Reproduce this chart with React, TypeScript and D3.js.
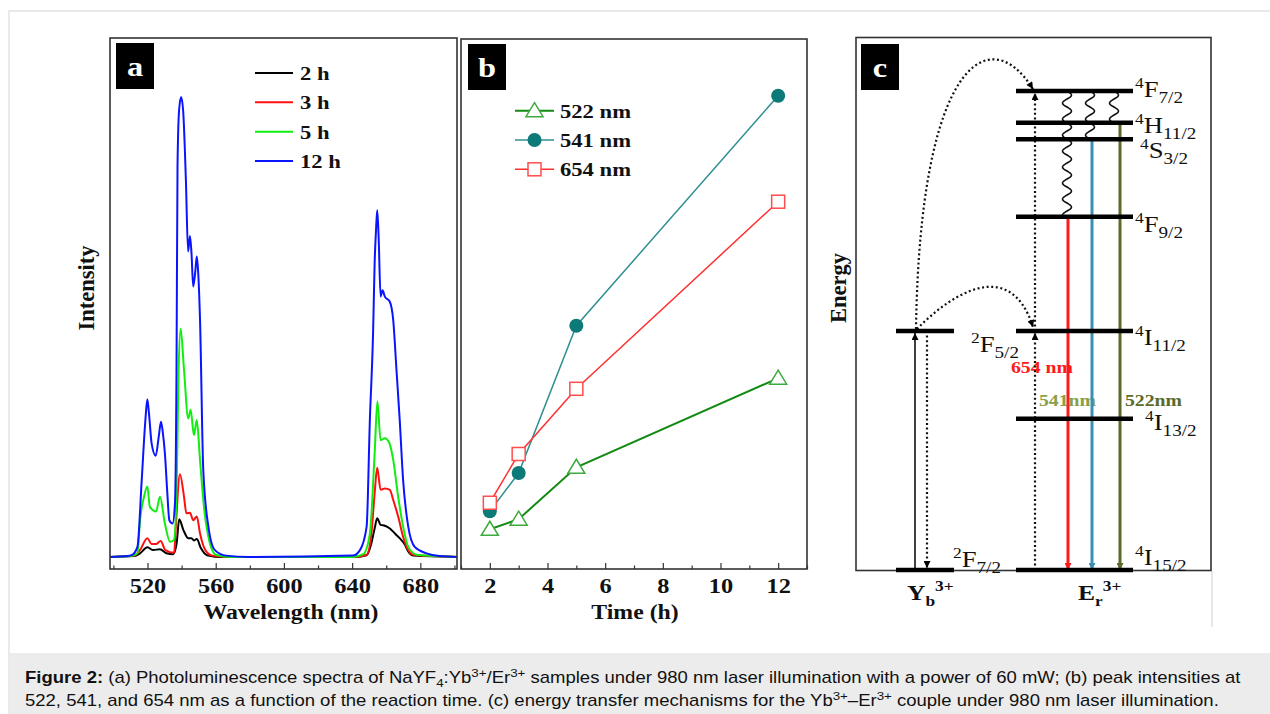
import { useEffect, useRef } from 'react'
import * as d3 from 'd3'

// (a) PL spectra, pairs of [wavelength nm, intensity a.u.]
const spec2h = [[498,0],[512.2,0.2],[515.6,0.8],[519.9,2.1],[523.4,1.5],[527.3,1.7],[531.1,0.8],[535.1,0.6],[537.1,3],[538.6,8.2],[541,5.9],[543.9,4.1],[545.8,4.1],[547.2,3.6],[548.9,3.9],[551.2,2],[554.9,0.4],[564.1,0],[640.4,0],[648.5,0.4],[651.3,3],[653.2,6.2],[654.7,8.4],[656.7,7],[659.2,6.8],[662.1,6.2],[665.1,5.1],[667.9,4.1],[670.9,2.7],[672.9,1.2],[675.9,0.3],[701.5,0]]
const spec3h = [[498,0],[512.2,0.3],[515.6,1.5],[519.9,4.1],[522.4,2.8],[525,2.8],[527.7,3.5],[530.5,1.5],[535.6,0.9],[536.6,6.6],[539,18],[541.4,13.1],[542.8,9.5],[544.9,9.6],[546.8,8],[548.9,8.8],[550.8,5.1],[553.9,1.5],[558,0.3],[569.2,0],[640.4,0],[648.5,0.5],[651.3,5.1],[653.2,13.8],[654.7,19.4],[656.7,14.6],[659.2,14.9],[662.1,14.6],[664.1,12.4],[667,8.8],[669.9,4.4],[672.9,1.5],[675.9,0.5],[701.5,0]]
const spec5h = [[498,0],[510.2,0.2],[514.1,0.8],[515.6,8],[517.9,13],[519.9,15.3],[521.4,10.9],[525,9.9],[527.3,13.1],[530.2,7.3],[533.2,3.3],[535.5,3.7],[537.1,15.3],[538.2,40],[539.4,49.7],[541.4,40.7],[543.9,30.1],[545.3,32],[547.2,26.5],[548.9,29.8],[550.8,21],[553.1,10.9],[555.7,4.4],[560,0.5],[569.2,0],[640.4,0],[646.5,0.6],[650.4,5.1],[653.2,22.5],[654.8,33.8],[656.7,25.4],[659.2,25.8],[661.7,24.9],[664.1,21.1],[667,13.1],[669.9,6.6],[672.9,2.2],[678,0.5],[701.5,0]]
const spec12h = [[498,0],[508.2,0.2],[510.7,0.4],[514.1,2.2],[516.6,16.7],[518.8,30],[519.9,34.3],[520.9,31],[522.4,24.7],[524.8,22],[526.7,26.5],[527.9,29.4],[529,27],[530.2,22.5],[531.6,14],[532.8,8],[534.7,7.3],[536.1,11.7],[537,40],[537.6,85],[538.5,97],[539.7,100],[540.9,97],[542.5,82],[543.8,66.4],[544.9,69.8],[545.8,66],[546.8,58.8],[548,62],[548.9,65.3],[549.7,62],[550.8,51.5],[552.7,18.9],[555.7,6.6],[559.5,1.5],[566.1,0.3],[579.4,0],[640.4,0.3],[644.6,1.5],[648.5,6.6],[650.4,29.8],[652.3,49],[653.2,63.9],[654,71],[654.7,75.4],[655.5,70],[656.7,56.6],[657.8,58],[659.2,56.6],[662.1,55.5],[664.1,51.5],[666,40.7],[667.9,29.8],[669.9,16.7],[672.9,6.6],[676.7,2.2],[683.6,0.8],[691.2,0.2],[701.5,0]]
const specNames = ['2 h', '3 h', '5 h', '12 h']
const wlTicks = [520, 560, 600, 640, 680]
const wlMinor = [500, 540, 580, 620, 660, 700]

// (b) peak intensity vs reaction time
const times = [2, 3, 5, 12]
const peak522 = [7.5, 9.4, 19.2, 36]
const peak541 = [10.9, 18.1, 45.9, 89.3]
const peak654 = [12.5, 21.7, 34, 69.3]
const timeTicks = [2, 4, 6, 8, 10, 12]
const timeMinor = [1, 3, 5, 7, 9, 11, 13]

// (c) energy levels, cm-1
const erLevels = [
  { sup: '4', main: 'F', sub: '7/2', e: 20440 },
  { sup: '4', main: 'H', sub: '11/2', e: 19090 },
  { sup: '4', main: 'S', sub: '3/2', e: 18380 },
  { sup: '4', main: 'F', sub: '9/2', e: 15080 },
  { sup: '4', main: 'I', sub: '11/2', e: 10200 },
  { sup: '4', main: 'I', sub: '13/2', e: 6450 },
  { sup: '4', main: 'I', sub: '15/2', e: 0 },
]
const ybLevels = [
  { sup: '2', main: 'F', sub: '5/2', e: 10200 },
  { sup: '2', main: 'F', sub: '7/2', e: 0 },
]

const serif = '"Liberation Serif", "Times New Roman", serif'
const sans = '"Liberation Sans", Arial, sans-serif'
const SX = 1.16 // the figure text is a bit wide

const App = () => {
  const ref = useRef(null)

  useEffect(() => {
    const svg = d3.select(ref.current)
    svg.selectAll('*').remove()
    const defs = svg.append('defs')

    // text with the horizontal stretch
    const txt = (x, y, size, opts = {}) => {
      const t = svg.append('text')
        .attr('transform', `translate(${x},${y})${opts.rotate ? ' rotate(-90)' : ''} scale(${opts.rotate ? 1 : SX},1)`)
        .attr('font-family', opts.font || serif).attr('font-size', size)
        .attr('fill', opts.fill || '#111')
      if (opts.bold) t.attr('font-weight', 'bold')
      if (opts.anchor) t.attr('text-anchor', opts.anchor)
      return t
    }

    const marker = (id, color, len = 10, wid = 8) => {
      defs.append('marker').attr('id', id)
        .attr('viewBox', '0 0 10 10').attr('refX', 10).attr('refY', 5)
        .attr('markerWidth', len).attr('markerHeight', wid)
        .attr('markerUnits', 'userSpaceOnUse').attr('orient', 'auto')
        .append('path').attr('d', 'M0,0 L10,5 L0,10 z').attr('fill', color)
    }
    marker('ah-black', '#000', 9, 7)
    marker('ah-red', '#ff1a1a', 9, 7)
    marker('ah-blue', '#3a8fb3', 9, 7)
    marker('ah-olive', '#5a6b2a', 9, 7)

    // page frame and caption box
    svg.append('rect').attr('x', 9).attr('y', 11).attr('width', 1270).attr('height', 720)
      .attr('fill', '#fff').attr('stroke', '#e3e3e3').attr('stroke-width', 1.5)
    svg.append('rect').attr('x', 9.75).attr('y', 653).attr('width', 1262).attr('height', 62)
      .attr('fill', '#ececec')
    svg.append('line').attr('x1', 1212).attr('x2', 1212).attr('y1', 571).attr('y2', 627)
      .attr('stroke', '#d0d0d0').attr('stroke-width', 1)

    const panelTag = (x, y, letter) => {
      svg.append('rect').attr('x', x).attr('y', y).attr('width', 38).attr('height', 46).attr('fill', '#000')
      txt(x + 19, y + 33, 28, { bold: true, anchor: 'middle', fill: '#fff' }).text(letter)
    }

    const bottomAxis = (x, y0, major, minor) => {
      const g = svg.append('g').attr('transform', `translate(0,${y0})`)
      g.call(d3.axisBottom(x).tickValues(major).tickSize(-6).tickPadding(9).tickFormat(d => d))
        .call(a => a.select('.domain').remove())
      g.selectAll('text').attr('font-family', serif).attr('font-weight', 'bold').attr('font-size', 21)
        .attr('fill', '#111').attr('transform', `scale(${SX},1)`)
      g.selectAll('line').attr('stroke', '#333').attr('stroke-width', 1.2)
      const m = svg.append('g').attr('transform', `translate(0,${y0})`)
      m.call(d3.axisBottom(x).tickValues(minor).tickSize(-3.5).tickFormat(() => ''))
        .call(a => a.select('.domain').remove())
      m.selectAll('line').attr('stroke', '#333').attr('stroke-width', 1.2)
    }

    // ---------------- panel a ----------------
    const ax = d3.scaleLinear().domain([498, 701.5]).range([110, 457])
    const ay = d3.scaleLinear().domain([0, 100]).range([557, 97])
    const specColors = ['#000000', '#ff1010', '#10ee10', '#0a14ff']
    const specs = [spec2h, spec3h, spec5h, spec12h]
    const aLine = d3.line().x(d => ax(d[0])).y(d => ay(d[1])).curve(d3.curveMonotoneX)
    specs.forEach((s, i) => {
      svg.append('path').datum(s).attr('d', aLine).attr('fill', 'none')
        .attr('stroke', specColors[i]).attr('stroke-width', 2)
    })
    svg.append('rect').attr('x', 110).attr('y', 38).attr('width', 347).attr('height', 531)
      .attr('fill', 'none').attr('stroke', '#333').attr('stroke-width', 1.6)
    bottomAxis(ax, 569, wlTicks, wlMinor)
    txt(291, 619, 20.5, { bold: true, anchor: 'middle' }).text('Wavelength (nm)')
    txt(94, 288, 22.5, { bold: true, anchor: 'middle', rotate: true }).text('Intensity')
    panelTag(116, 43, 'a')
    const aLeg = d3.scalePoint().domain(specNames).range([73, 161])
    specNames.forEach((n, i) => {
      svg.append('line').attr('x1', 255).attr('x2', 293).attr('y1', aLeg(n)).attr('y2', aLeg(n))
        .attr('stroke', specColors[i]).attr('stroke-width', 2)
      txt(300, aLeg(n) + 7, 19.5, { bold: true }).text(n)
    })

    // ---------------- panel b ----------------
    const bx = d3.scaleLinear().domain([1, 13]).range([461, 807])
    const by = d3.scaleLinear().domain([0, 100]).range([569, 39])
    const series = [
      { name: '541 nm', vals: peak541, line: '#2f9090', stroke: '#0c7a78', fill: '#0c7a78', shape: 'circle', w: 1.5 },
      { name: '654 nm', vals: peak654, line: '#ff3030', stroke: '#ff4d4d', fill: '#fff', shape: 'square', w: 1.5 },
      { name: '522 nm', vals: peak522, line: '#138a13', stroke: '#3daa3d', fill: '#fff', shape: 'triangle', w: 2 },
    ]
    const drawMark = (g, shape, cx, cy, s) => {
      if (shape === 'circle') {
        g.append('circle').attr('cx', cx).attr('cy', cy).attr('r', 7).attr('fill', s.fill)
      } else if (shape === 'square') {
        g.append('rect').attr('x', cx - 6.5).attr('y', cy - 6.5).attr('width', 13).attr('height', 13)
          .attr('fill', s.fill).attr('stroke', s.stroke).attr('stroke-width', 1.5)
      } else {
        g.append('path').attr('d', `M${cx},${cy - 8} L${cx + 8.5},${cy + 6} L${cx - 8.5},${cy + 6} Z`)
          .attr('fill', s.fill).attr('stroke', s.stroke).attr('stroke-width', 1.5)
      }
    }
    const bLine = d3.line().x((d, i) => bx(times[i])).y(d => by(d))
    series.forEach(s => {
      svg.append('path').datum(s.vals).attr('d', bLine).attr('fill', 'none')
        .attr('stroke', s.line).attr('stroke-width', s.w)
    })
    series.forEach(s => {
      const g = svg.append('g')
      s.vals.forEach((v, i) => drawMark(g, s.shape, bx(times[i]), by(v), s))
    })
    svg.append('rect').attr('x', 461).attr('y', 39).attr('width', 346).attr('height', 530)
      .attr('fill', 'none').attr('stroke', '#333').attr('stroke-width', 1.6)
    bottomAxis(bx, 569, timeTicks, timeMinor)
    txt(635, 619, 20.5, { bold: true, anchor: 'middle' }).text('Time (h)')
    panelTag(468, 44, 'b')
    const legOrder = [series[2], series[0], series[1]]
    const bLeg = d3.scalePoint().domain(legOrder.map(s => s.name)).range([110.7, 169.3])
    legOrder.forEach(s => {
      const yy = bLeg(s.name)
      svg.append('line').attr('x1', 515).attr('x2', 554).attr('y1', yy).attr('y2', yy)
        .attr('stroke', s.line).attr('stroke-width', s.w)
      drawMark(svg.append('g'), s.shape, 534.5, yy, s)
      txt(560, yy + 7, 19.5, { bold: true }).text(s.name)
    })

    // ---------------- panel c ----------------
    const ey = d3.scaleLinear().domain([0, 10200]).range([570, 331])
    const erX = [1016, 1133]
    const ybX = [896, 954]
    svg.append('rect').attr('x', 856).attr('y', 37.5).attr('width', 355).attr('height', 533)
      .attr('fill', 'none').attr('stroke', '#333').attr('stroke-width', 1.6)
    panelTag(861, 44, 'c')
    txt(846, 288, 22.5, { bold: true, anchor: 'middle', rotate: true }).text('Energy')

    const termLabel = (x, y, t) => {
      const el = txt(x, y, 23)
      el.append('tspan').attr('font-size', 15).attr('dy', -9).text(t.sup)
      el.append('tspan').attr('dy', 9).text(t.main)
      el.append('tspan').attr('font-size', 16.5).attr('dy', 6).text(t.sub)
    }
    const erLabelPos = [[1135, 6], [1135, 10], [1140, 19], [1135, 15], [1135, 14], [1145, 11], [1135, -5]]
    const ybLabelPos = [[971, 21], [953, -3]]

    // non-radiative wavy relaxations from 4F7/2
    const wavy = (x, e1, e2, amp = 4.5, period = 16) => {
      const y1 = ey(e1), y2 = ey(e2)
      const pts = d3.range(y1, y2, 1).concat([y2]).map(yy => [x + amp * Math.sin((yy - y1) / period * 2 * Math.PI), yy])
      svg.append('path').attr('d', d3.line()(pts)).attr('fill', 'none').attr('stroke', '#111').attr('stroke-width', 1.6)
    }
    wavy(1067, erLevels[0].e, erLevels[3].e)
    wavy(1090, erLevels[0].e, erLevels[2].e)
    wavy(1114, erLevels[0].e, erLevels[1].e)

    // emissions
    const emis = [
      { x: 1068, from: erLevels[3].e, color: '#ff1a1a', m: 'ah-red' },
      { x: 1092, from: erLevels[2].e, color: '#3a8fb3', m: 'ah-blue' },
      { x: 1120, from: erLevels[1].e, color: '#5a6b2a', m: 'ah-olive' },
    ]

    // text labels of transitions (behind lines)
    txt(1011, 373, 17, { bold: true, fill: '#ff1a1a' }).text('654 nm')
    txt(1039, 406, 17, { bold: true, fill: '#8aa048' }).text('541nm')
    txt(1125, 406, 17, { bold: true, fill: '#5a6b2a' }).text('522nm')

    emis.forEach(t => {
      svg.append('line').attr('x1', t.x).attr('x2', t.x).attr('y1', ey(t.from)).attr('y2', ey(0))
        .attr('stroke', t.color).attr('stroke-width', 3).attr('marker-end', `url(#${t.m})`)
    })

    // energy transfer / absorption
    const dotted = { stroke: '#111', 'stroke-width': 2.2, 'stroke-dasharray': '2,2.6', fill: 'none' }
    const applyAttrs = (sel, o) => { Object.entries(o).forEach(([k, v]) => sel.attr(k, v)); return sel }
    applyAttrs(svg.append('line').attr('x1', 1035).attr('x2', 1035).attr('y1', ey(0)).attr('y2', ey(10200) + 2), dotted)
      .attr('marker-end', 'url(#ah-black)')
    applyAttrs(svg.append('line').attr('x1', 1035).attr('x2', 1035).attr('y1', ey(10200)).attr('y2', ey(20440) + 2), dotted)
      .attr('marker-end', 'url(#ah-black)')
    svg.append('line').attr('x1', 915).attr('x2', 915).attr('y1', ey(0)).attr('y2', ey(10200) + 2)
      .attr('stroke', '#111').attr('stroke-width', 1.6).attr('marker-end', 'url(#ah-black)')
    applyAttrs(svg.append('line').attr('x1', 927).attr('x2', 927).attr('y1', ey(10200)).attr('y2', ey(0) - 2), dotted)
      .attr('marker-end', 'url(#ah-black)')
    const p1 = d3.path()
    p1.moveTo(916, ey(10200) - 2)
    p1.bezierCurveTo(920, 60, 990, 20, 1033, ey(20440) - 2)
    applyAttrs(svg.append('path').attr('d', p1.toString()), dotted).attr('marker-end', 'url(#ah-black)')
    const p2 = d3.path()
    p2.moveTo(917, ey(10200) - 2)
    p2.bezierCurveTo(950, 295, 1010, 255, 1033, ey(10200) - 4)
    applyAttrs(svg.append('path').attr('d', p2.toString()), dotted).attr('marker-end', 'url(#ah-black)')

    // levels
    erLevels.forEach((l, i) => {
      svg.append('line').attr('x1', erX[0]).attr('x2', erX[1]).attr('y1', ey(l.e)).attr('y2', ey(l.e))
        .attr('stroke', '#000').attr('stroke-width', 4.5)
      termLabel(erLabelPos[i][0], ey(l.e) + erLabelPos[i][1], l)
    })
    ybLevels.forEach((l, i) => {
      svg.append('line').attr('x1', ybX[0]).attr('x2', ybX[1]).attr('y1', ey(l.e)).attr('y2', ey(l.e))
        .attr('stroke', '#000').attr('stroke-width', 4.5)
      termLabel(ybLabelPos[i][0], ey(l.e) + ybLabelPos[i][1], l)
    })

    const ionLabel = (x, y, main, sub) => {
      const t = txt(x, y, 22, { bold: true })
      t.append('tspan').text(main)
      t.append('tspan').attr('font-size', 15).attr('dy', 6).text(sub)
      t.append('tspan').attr('font-size', 15).attr('dy', -15).text('3+')
    }
    ionLabel(907, 600, 'Y', 'b')
    ionLabel(1078, 600, 'E', 'r')

    // ---------------- caption ----------------
    const caption = (y, parts) => {
      const t = txt(25, y, 15.95, { font: sans })
      let shift = 0
      parts.forEach(([s, kind]) => {
        const target = kind === 'sup' ? -6 : kind === 'sub' ? 4 : 0
        const sp = t.append('tspan').attr('dy', target - shift).text(s)
        if (kind === 'sup' || kind === 'sub') sp.attr('font-size', 11.5)
        if (kind === 'b') sp.attr('font-weight', 'bold')
        shift = target
      })
    }
    caption(683, [
      ['Figure 2:', 'b'], [' (a) Photoluminescence spectra of NaYF', ''], ['4', 'sub'], [':Yb', ''], ['3+', 'sup'],
      ['/Er', ''], ['3+', 'sup'], [' samples under 980 nm laser illumination with a power of 60 mW; (b) peak intensities at', ''],
    ])
    caption(706, [
      ['522, 541, and 654 nm as a function of the reaction time. (c) energy transfer mechanisms for the Yb', ''],
      ['3+', 'sup'], ['\u2013Er', ''], ['3+', 'sup'], [' couple under 980 nm laser illumination.', ''],
    ])
  }, [])

  return (
    <svg ref={ref} width={1270} height={714} style={{ position: 'absolute', left: 0, top: 0, background: '#fff' }} />
  )
}

export default App
